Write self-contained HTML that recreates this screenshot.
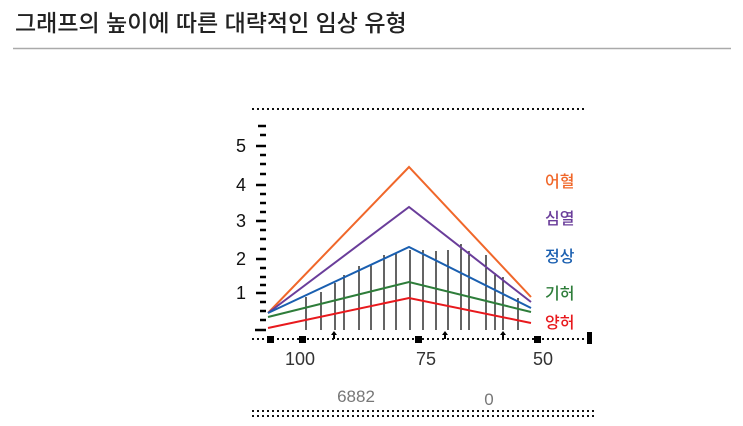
<!DOCTYPE html>
<html><head><meta charset="utf-8"><style>
body{margin:0;background:#fff;width:743px;height:426px;overflow:hidden;font-family:"Liberation Sans","Noto Sans CJK KR",sans-serif}
</style></head><body>
<svg width="743" height="426" xmlns="http://www.w3.org/2000/svg" style="position:absolute;left:0;top:0">
<text x="15" y="31" font-size="23" font-weight="500" fill="#222" font-family="Liberation Sans, Noto Sans CJK KR, sans-serif">그래프의 높이에 따른 대략적인 임상 유형</text>
<line x1="13" y1="48.5" x2="731" y2="48.5" stroke="#aaa" stroke-width="1.5"/>
<line x1="252" y1="109" x2="584" y2="109" stroke="#111" stroke-width="2" stroke-dasharray="2,3"/>
<line x1="252" y1="411" x2="597" y2="411" stroke="#111" stroke-width="2" stroke-dasharray="2,3"/>
<line x1="252" y1="416" x2="597" y2="416" stroke="#111" stroke-width="2" stroke-dasharray="2,3"/>
<line x1="252" y1="339" x2="588" y2="339" stroke="#111" stroke-width="2" stroke-dasharray="2,3"/>
<g fill="#000">
<rect x="267" y="336" width="7" height="7"/><rect x="299" y="336" width="7" height="7"/><rect x="415" y="336" width="7" height="7"/><rect x="534" y="336" width="7" height="7"/>
<rect x="587" y="332" width="5" height="12"/>
<path d="M334,331 l-3,4 h2 v4 h2 v-4 h2z"/><path d="M445,331 l-3,4 h2 v4 h2 v-4 h2z"/><path d="M503,331 l-3,4 h2 v4 h2 v-4 h2z"/>
</g>
<g stroke="#000" stroke-width="2.5">
<line x1="258" y1="126" x2="266" y2="126"/><line x1="260" y1="135" x2="266" y2="135"/><line x1="256" y1="146" x2="266" y2="146"/><line x1="260" y1="155" x2="266" y2="155"/><line x1="260" y1="164" x2="266" y2="164"/><line x1="260" y1="174" x2="266" y2="174"/><line x1="256" y1="185" x2="266" y2="185"/><line x1="260" y1="194" x2="266" y2="194"/><line x1="260" y1="203" x2="266" y2="203"/><line x1="260" y1="212" x2="266" y2="212"/><line x1="256" y1="221" x2="266" y2="221"/><line x1="260" y1="230" x2="266" y2="230"/><line x1="260" y1="239" x2="266" y2="239"/><line x1="260" y1="249" x2="266" y2="249"/><line x1="256" y1="259" x2="266" y2="259"/><line x1="260" y1="268" x2="266" y2="268"/><line x1="260" y1="277" x2="266" y2="277"/><line x1="260" y1="285" x2="266" y2="285"/><line x1="256" y1="293" x2="266" y2="293"/><line x1="260" y1="302" x2="266" y2="302"/><line x1="260" y1="311" x2="266" y2="311"/><line x1="260" y1="320" x2="266" y2="320"/><line x1="255" y1="330" x2="266" y2="330"/>
</g>
<g font-size="18" fill="#111" text-anchor="middle">
<text x="241" y="152">5</text><text x="241" y="191">4</text><text x="241" y="227">3</text><text x="241" y="265">2</text><text x="241" y="299">1</text>
</g>
<g stroke="#111" stroke-width="1.3">
<line x1="306" y1="297" x2="306" y2="330"/><line x1="321" y1="292" x2="321" y2="330"/><line x1="335" y1="283" x2="335" y2="330"/><line x1="344" y1="275" x2="344" y2="330"/><line x1="359" y1="266" x2="359" y2="330"/><line x1="371" y1="265" x2="371" y2="330"/><line x1="384" y1="255" x2="384" y2="330"/><line x1="396" y1="253" x2="396" y2="330"/><line x1="410" y1="250" x2="410" y2="330"/><line x1="423" y1="250" x2="423" y2="330"/><line x1="436" y1="251" x2="436" y2="330"/><line x1="448" y1="250" x2="448" y2="330"/><line x1="461" y1="244" x2="461" y2="330"/><line x1="469" y1="251" x2="469" y2="330"/><line x1="486" y1="255" x2="486" y2="330"/><line x1="495" y1="273" x2="495" y2="330"/><line x1="503" y1="277" x2="503" y2="330"/><line x1="518" y1="298" x2="518" y2="330"/>
</g>
<g fill="none" stroke-width="2">
<polyline points="268,313 409,167 531,297" stroke="#f0672a"/>
<polyline points="268,313 409,207 531,302" stroke="#6a3d9a"/>
<polyline points="268,313 409,247 531,308" stroke="#1a5fb0"/>
<polyline points="268,317 409,282 531,312" stroke="#2e7d3a"/>
<polyline points="268,328 409,298 531,323" stroke="#e8191d"/>
</g>
<g font-size="16" font-weight="500" font-family="Liberation Sans, Noto Sans CJK KR, sans-serif">
<text x="545" y="187" fill="#f0672a">어혈</text>
<text x="545" y="224" fill="#6a3d9a">심열</text>
<text x="545" y="262" fill="#1a5fb0">정상</text>
<text x="545" y="299" fill="#2e7d3a">기허</text>
<text x="545" y="328" fill="#e8191d">양허</text>
</g>
<g font-size="18" fill="#333" text-anchor="middle">
<text x="300" y="365">100</text><text x="426" y="365">75</text><text x="543" y="365">50</text>
</g>
<g font-size="17" fill="#777" text-anchor="middle">
<text x="356" y="402">6882</text><text x="489" y="405">0</text>
</g>
</svg>
</body></html>
